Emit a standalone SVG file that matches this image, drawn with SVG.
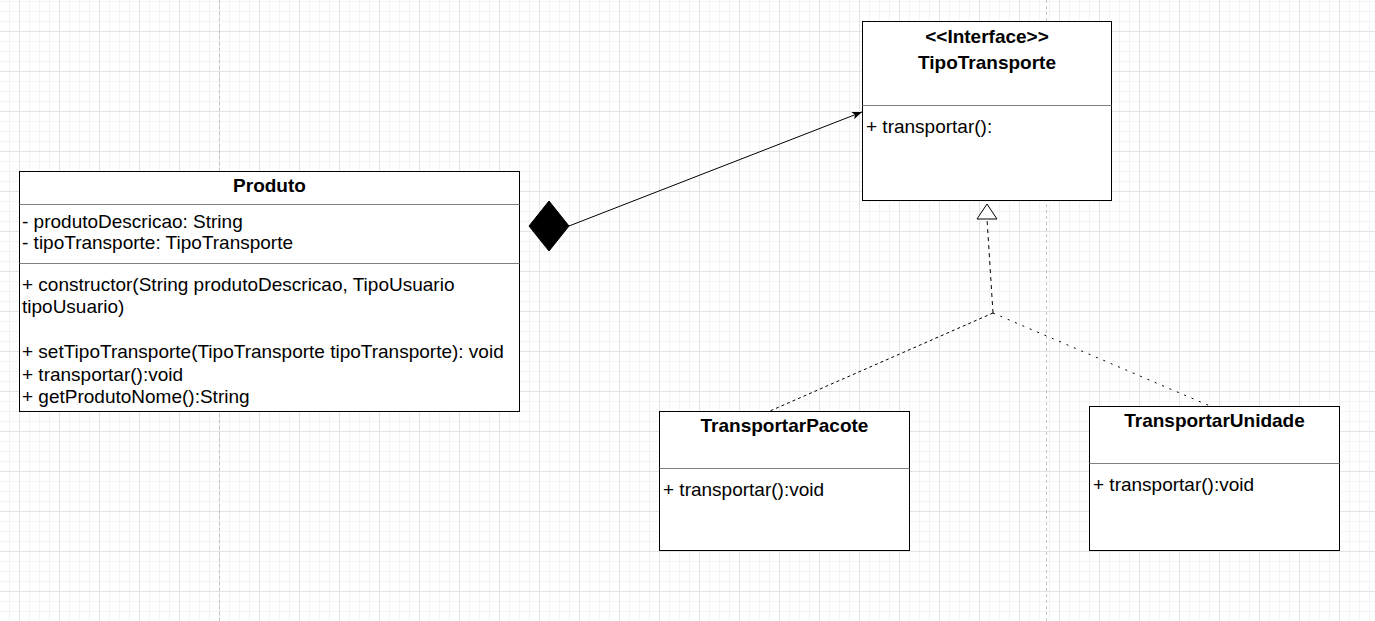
<svg xmlns="http://www.w3.org/2000/svg" width="1375" height="621" viewBox="0 0 1375 621">
<defs>
<pattern id="grid" x="19" y="31" width="40" height="40" patternUnits="userSpaceOnUse">
<path d="M10.5 0V40M20.5 0V40M30.5 0V40M0 10.5H40M0 20.5H40M0 30.5H40" stroke="#f4f4f4" stroke-width="1" fill="none"/>
<path d="M0.5 0V40M0 0.5H40" stroke="#e3e3e3" stroke-width="1" fill="none"/>
</pattern>
<marker id="arrow" viewBox="0 0 10 10" refX="10" refY="5" markerWidth="10" markerHeight="10" markerUnits="userSpaceOnUse" orient="auto">
<path d="M0 1L10 5L0 9L2.5 5Z" fill="#000"/>
</marker>
</defs>
<style>
.box{fill:#fff;stroke:#000;stroke-width:1}
.div{stroke:#808080;stroke-width:1}
.t{font-family:"Liberation Sans",Arial,sans-serif;font-size:19px;fill:#000}
.b{font-weight:bold;text-anchor:middle}
.edge{fill:none;stroke:#000;stroke-width:1}
</style>
<rect width="1375" height="621" fill="#fff"/>
<rect width="1375" height="621" fill="url(#grid)"/>
<path d="M219.5 0V621M1046.5 0V621" stroke="#c4c4c4" stroke-width="1" stroke-dasharray="3 3"/>

<g id="connectors">
<path class="edge" d="M569 226L862 112" marker-end="url(#arrow)"/>
<path d="M529 226L549 201L569 226L549 251Z" fill="#000" stroke="#000"/>
<path class="edge" d="M993 313L987 219" stroke-dasharray="4 4"/>
<path d="M987 204L997 219H977Z" fill="#fff" stroke="#000" stroke-width="1"/>
<path class="edge" d="M993 313L770 411" stroke-dasharray="3 3"/>
<path class="edge" d="M993 313L1210 406" stroke-width="2" stroke-dasharray="2 6"/>
</g>

<g id="TipoTransporte">
<rect class="box" x="862.5" y="21.5" width="249" height="179"/>
<line class="div" x1="862.5" y1="105.5" x2="1111.5" y2="105.5"/>
<text class="t b" x="987" y="42.5">&lt;&lt;Interface&gt;&gt;</text>
<text class="t b" x="987" y="68.5">TipoTransporte</text>
<text class="t" x="866" y="132.5">+ transportar():</text>
</g>

<g id="Produto">
<rect class="box" x="19.5" y="171.5" width="500" height="240"/>
<line class="div" x1="19.5" y1="204.5" x2="519.5" y2="204.5"/>
<line class="div" x1="19.5" y1="263.5" x2="519.5" y2="263.5"/>
<text class="t b" x="269.5" y="192">Produto</text>
<text class="t" x="22" y="228">- produtoDescricao: String</text>
<text class="t" x="22" y="248.5">- tipoTransporte: TipoTransporte</text>
<text class="t" x="22" y="290.5">+ constructor(String produtoDescricao, TipoUsuario</text>
<text class="t" x="22" y="313">tipoUsuario)</text>
<text class="t" x="22" y="358">+ setTipoTransporte(TipoTransporte tipoTransporte): void</text>
<text class="t" x="22" y="380.5">+ transportar():void</text>
<text class="t" x="22" y="403">+ getProdutoNome():String</text>
</g>

<g id="TransportarPacote">
<rect class="box" x="659.5" y="411.5" width="250" height="139"/>
<line class="div" x1="659.5" y1="468.5" x2="909.5" y2="468.5"/>
<text class="t b" x="784.5" y="431.5">TransportarPacote</text>
<text class="t" x="663" y="495.5">+ transportar():void</text>
</g>

<g id="TransportarUnidade">
<rect class="box" x="1089.5" y="406.5" width="250" height="144"/>
<line class="div" x1="1089.5" y1="463.5" x2="1339.5" y2="463.5"/>
<text class="t b" x="1214.5" y="426.5">TransportarUnidade</text>
<text class="t" x="1093" y="490.5">+ transportar():void</text>
</g>
</svg>
